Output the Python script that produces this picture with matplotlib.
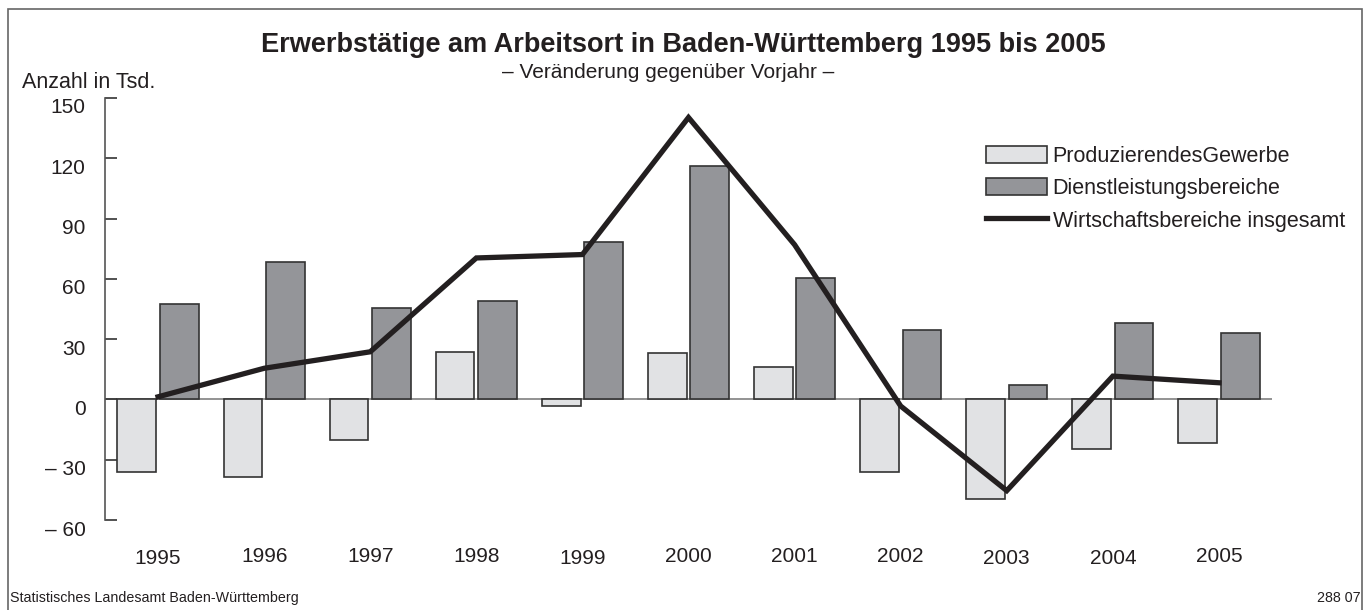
import numpy as np
import matplotlib
matplotlib.use("Agg")
import matplotlib.pyplot as plt
import matplotlib.transforms as mtransforms
from matplotlib.patches import Rectangle

plt.rcParams['font.family'] = ['Liberation Sans', 'DejaVu Sans']

# Daten (Veränderung gegenüber Vorjahr, in Tsd.)
jahre = ['1995', '1996', '1997', '1998', '1999', '2000', '2001', '2002', '2003', '2004', '2005']
produzierendes_gewerbe = [-36.3, -38.8, -20.2, 23.4, -3.3, 23.2, 16.1, -36.1, -49.6, -24.5, -21.6]
dienstleistungen = [47.7, 68.2, 45.5, 49.2, 78.4, 116.3, 60.6, 34.4, 7.3, 38.1, 33.0]
insgesamt = [1.3, 15.5, 23.7, 70.4, 72.1, 140.3, 77.0, -3.3, -45.4, 11.6, 8.3]
y_ticks = [-60, -30, 0, 30, 60, 90, 120, 150]
y_labels = ['– 60', '– 30', '0', '30', '60', '90', '120', '150']

hell = '#e1e2e4'
dunkel = '#949599'
rand = '#333333'
linie = '#231f20'

fig = plt.figure(figsize=(13.7, 6.1), dpi=100)
ax = fig.add_axes([105 / 1370, 1 - 520 / 610, (1272 - 105) / 1370, (520 - 98) / 610])

x = np.arange(len(jahre))
breite = 0.365
b1 = ax.bar(x - 0.2, produzierendes_gewerbe, breite, color=hell, edgecolor=rand, linewidth=1.2,
            label='ProduzierendesGewerbe', zorder=2)
b2 = ax.bar(x + 0.2, dienstleistungen, breite, color=dunkel, edgecolor=rand, linewidth=1.2,
            label='Dienstleistungsbereiche', zorder=2)
l1, = ax.plot(x, insgesamt, color=linie, linewidth=3.8, solid_joinstyle='miter',
              label='Wirtschaftsbereiche insgesamt', zorder=3)

ax.axhline(0, color='#808080', linewidth=1.2, zorder=1)

ax.set_xlim(-0.5, 10.5)
ax.set_ylim(-60, 150)
for s in ['top', 'right', 'bottom']:
    ax.spines[s].set_visible(False)
ax.spines['left'].set_color('#555555')
ax.spines['left'].set_linewidth(1.2)

ax.set_yticks(y_ticks)
ax.set_yticklabels(y_labels, fontsize=15, color='#231f20')
ax.tick_params(axis='y', direction='in', length=8.5, width=1.2, color='#333333', pad=14)
verschiebung = mtransforms.ScaledTranslation(0, -8 / 100, fig.dpi_scale_trans)
for lab in ax.get_yticklabels():
    lab.set_transform(lab.get_transform() + verschiebung)

ax.set_xticks([])
# Jahreszahlen leicht versetzt wie im Original
versatz = [-2, 0, 0, 0, -2, 0, -1, 0, -2, -2, 0]
for i, j in enumerate(jahre):
    ax.annotate(j, xy=(i, -60), xycoords='data', xytext=(0, -36 + versatz[i]),
                textcoords='offset pixels', ha='center', va='center', fontsize=15, color='#231f20')

leg = ax.legend(handles=[b1, b2, l1], loc='upper left', bbox_to_anchor=(986 / 1370, 1 - 146 / 610),
                bbox_transform=fig.transFigure, frameon=False, fontsize=15.5,
                handlelength=2.85, handleheight=0.85, handletextpad=0.25,
                labelspacing=0.52, borderpad=0, borderaxespad=0)
for t in leg.get_texts():
    t.set_color('#231f20')

fig.text(683 / 1370, 1 - 45 / 610, 'Erwerbstätige am Arbeitsort in Baden-Württemberg 1995 bis 2005',
         ha='center', va='center', fontsize=19.5, fontweight='bold', color='#231f20')
fig.text(668 / 1370, 1 - 72 / 610, '– Veränderung gegenüber Vorjahr –',
         ha='center', va='center', fontsize=15, color='#231f20')
fig.text(22 / 1370, 1 - 83 / 610, 'Anzahl in Tsd.', ha='left', va='center', fontsize=15.5, color='#231f20')
fig.text(10 / 1370, 1 - 598 / 610, 'Statistisches Landesamt Baden-Württemberg',
         ha='left', va='center', fontsize=10.3, color='#231f20')
fig.text(1361 / 1370, 1 - 598 / 610, '288 07', ha='right', va='center', fontsize=10.3, color='#231f20')

# Rahmen
fig.patches.append(Rectangle((8 / 1370, -0.01), (1362 - 8) / 1370, 1.01 - 9 / 610,
                             transform=fig.transFigure, fill=False, edgecolor='#666666', linewidth=1.2))

fig.savefig('out.png', dpi=100)
